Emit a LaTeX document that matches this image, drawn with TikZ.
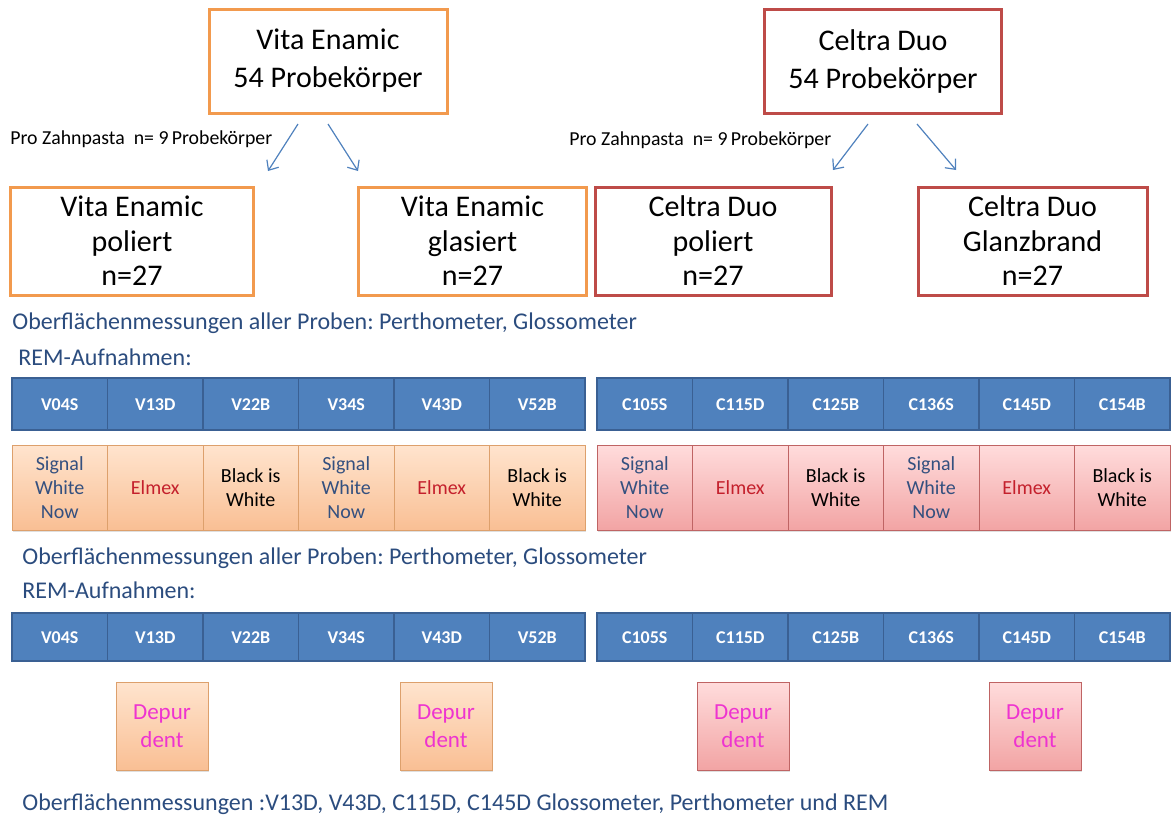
\documentclass[tikz,border=0pt]{standalone}
\usepackage{fontspec}
\setmainfont{Carlito}
\usepackage{tikz}
\usetikzlibrary{arrows.meta,positioning,shadows}
\definecolor{vitaor}{HTML}{F29A4E}
\definecolor{celred}{HTML}{BE4B48}
\definecolor{bandbl}{HTML}{4F81BD}
\definecolor{banddk}{HTML}{3A6093}
\definecolor{txtblue}{HTML}{2B4C7E}
\definecolor{sigblue}{HTML}{34507F}
\definecolor{elmred}{HTML}{C4202C}
\definecolor{depmag}{HTML}{EE33D0}
\definecolor{ortop}{HTML}{FFE4CE}
\definecolor{orbot}{HTML}{F9BF94}
\definecolor{orline}{HTML}{DDA06C}
\definecolor{rdtop}{HTML}{FFDCDC}
\definecolor{rdbot}{HTML}{F2A4A4}
\definecolor{rdline}{HTML}{BF6464}
\frenchspacing

\begin{document}
\begin{tikzpicture}[
  x=0.5pt, y=-0.5pt,
  topbox/.style={draw, line width=1.5pt, fill=white, inner sep=0pt, align=center,
    minimum height=52pt, font=\fontsize{15}{19}\selectfont},
  subbox/.style={draw, line width=1.5pt, fill=white, inner sep=0pt, align=center,
    minimum height=54pt, font=\fontsize{15}{17.25}\selectfont},
  cell/.style={draw=banddk, line width=0.8pt, fill=bandbl, text=white, inner sep=0pt,
    minimum width=47.75pt, text height=6.5pt, text depth=0pt,
    font=\bfseries\fontsize{9}{10}\selectfont},
  paste/.style={draw, line width=0.5pt, inner sep=0pt, align=center, minimum width=47.75pt,
    minimum height=42.5pt, font=\fontsize{10}{12}\selectfont,
    drop shadow={shadow xshift=0.6pt, shadow yshift=-0.8pt, opacity=0.25}},
  vpaste/.style={paste, draw=orline, top color=ortop, bottom color=orbot},
  cpaste/.style={paste, draw=rdline, top color=rdtop, bottom color=rdbot},
  depur/.style={paste, text=depmag, minimum width=46pt, minimum height=44pt,
    font=\fontsize{11.5}{14}\selectfont},
  note/.style={anchor=west, inner sep=0pt, text=txtblue, font=\fontsize{12}{14}\selectfont},
  split/.style={draw=bandbl, line width=0.6pt, -{Straight Barb[length=4pt,width=7pt]}}
]
\useasboundingbox (0,0) rectangle (1171,820);

% Materials
\node[topbox, draw=vitaor, minimum width=119pt] (vita) at (328,61) {Vita Enamic\\54 Probekörper};
\node[topbox, draw=celred, minimum width=118.5pt] (celtra) at (883,61) {Celtra Duo\\54 Probekörper};

% Surface treatments
\node[subbox, draw=vitaor, minimum width=121.5pt] (vpol) at (132,241) {Vita Enamic\\poliert\\n=27};
\node[subbox, draw=vitaor, minimum width=114pt] (vgla) at (472.5,241) {Vita Enamic\\glasiert\\n=27};
\node[subbox, draw=celred, minimum width=118pt] (cpol) at (713,241) {Celtra Duo\\poliert\\n=27};
\node[subbox, draw=celred, minimum width=114.5pt] (cgla) at (1032.5,241) {Celtra Duo\\Glanzbrand\\n=27};

% split arrows (free ends)
\coordinate (v1s) at (298,124); \coordinate (v1e) at (268,171);
\coordinate (v2s) at (328,124); \coordinate (v2e) at (358,171);
\coordinate (c1s) at (868,124); \coordinate (c1e) at (833,170);
\coordinate (c2s) at (917,124); \coordinate (c2e) at (956,170);
\draw[split] (v1s) -- (v1e);
\draw[split] (v2s) -- (v2e);
\draw[split] (c1s) -- (c1e);
\draw[split] (c2s) -- (c2e);
\node[anchor=west, inner sep=0pt, font=\fontsize{9.9}{11}\selectfont] (vpro) at (10,139) {Pro Zahnpasta\ \ n= 9\,Probekörper};
\node[anchor=west, inner sep=0pt, font=\fontsize{9.9}{11}\selectfont] (cpro) at (569,140) {Pro Zahnpasta\ \ n= 9\,Probekörper};

% Measurements before brushing
\node[note] (mess1) at (12,323) {Oberflächenmessungen aller Proben: Perthometer, Glossometer};
\node[note] (rem1) at (18,357) {REM-Aufnahmen:};

\foreach \lbl [count=\i] in {V04S,V13D,V22B,V34S,V43D,V52B}
  \node[cell, minimum height=26pt] (va\i) at ({59.75+95.5*(\i-1)},404) {\lbl};
\foreach \lbl [count=\i] in {C105S,C115D,C125B,C136S,C145D,C154B}
  \node[cell, minimum height=26pt] (ca\i) at ({644.75+95.5*(\i-1)},404) {\lbl};

% Toothpastes
\foreach \col/\txt [count=\i] in {sigblue/{Signal\\White\\Now}, elmred/Elmex, black/{Black is\\White},
    sigblue/{Signal\\White\\Now}, elmred/Elmex, black/{Black is\\White}}
  \node[vpaste, text=\col] (vz\i) at ({59.75+95.5*(\i-1)},487.5) {\txt};
\foreach \col/\txt [count=\i] in {sigblue/{Signal\\White\\Now}, elmred/Elmex, black/{Black is\\White},
    sigblue/{Signal\\White\\Now}, elmred/Elmex, black/{Black is\\White}}
  \node[cpaste, text=\col] (cz\i) at ({644.75+95.5*(\i-1)},487.5) {\txt};

% Measurements after brushing
\node[note] (mess2) at (22,558) {Oberflächenmessungen aller Proben: Perthometer, Glossometer};
\node[note] (rem2) at (22,590) {REM-Aufnahmen:};

\foreach \lbl [count=\i] in {V04S,V13D,V22B,V34S,V43D,V52B}
  \node[cell, minimum height=24pt] (vb\i) at ({59.75+95.5*(\i-1)},637) {\lbl};
\foreach \lbl [count=\i] in {C105S,C115D,C125B,C136S,C145D,C154B}
  \node[cell, minimum height=24pt] (cb\i) at ({644.75+95.5*(\i-1)},637) {\lbl};

% Depurdent
\node[depur, draw=orline, top color=ortop, bottom color=orbot] (vd1) at (162,726) {Depur\\dent};
\node[depur, draw=orline, top color=ortop, bottom color=orbot] (vd2) at (446,726) {Depur\\dent};
\node[depur, draw=rdline, top color=rdtop, bottom color=rdbot] (cd1) at (743,726) {Depur\\dent};
\node[depur, draw=rdline, top color=rdtop, bottom color=rdbot] (cd2) at (1035,726) {Depur\\dent};

\node[note] (mess3) at (22,804) {Oberflächenmessungen :V13D, V43D, C115D, C145D Glossometer, Perthometer und REM};

\end{tikzpicture}
\end{document}
